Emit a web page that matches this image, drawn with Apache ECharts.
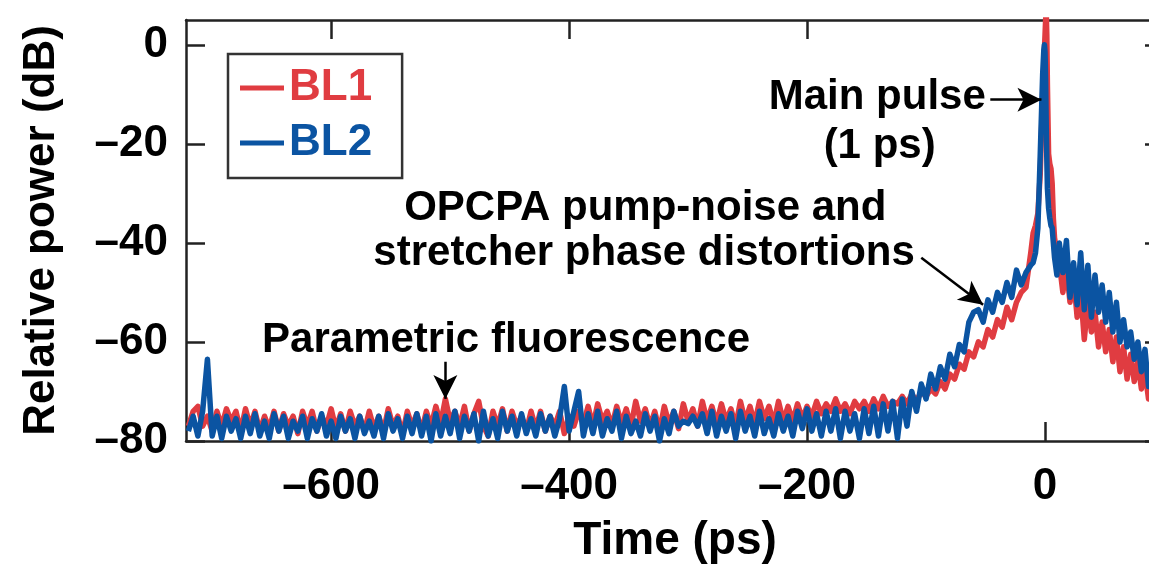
<!DOCTYPE html>
<html><head><meta charset="utf-8">
<script src="https://cdn.jsdelivr.net/npm/echarts@6/dist/echarts.min.js"></script>
<style>html,body{margin:0;padding:0;background:#fff;overflow:hidden}#c{width:1149px;height:565px}</style>
</head><body><div id="c"></div>
<script>
// ---- data ----
// noise floor + leading pedestal, sampled every 4 ps from -720 ps
const floorStart = -720, floorStep = 4;
const bl1Floor = [
-77,-74,-73,-77,-75,-78,-74,-77,-73.5,-76,
-74,-78,-73.5,-77,-74,-78,-75,-77.5,-74,-78,
-74.5,-77,-75,-78.5,-74,-77,-74,-78,-75,-77,
-73.5,-77.5,-74.5,-78,-74,-77,-75,-78,-74,-77.5,
-75,-78,-73.5,-77,-75,-78.5,-74,-77,-74.5,-78,
-74,-77,-73,-76.5,-71.5,-76,-74,-77,-73,-78,
-74.5,-72,-77,-79,-74,-77,-73.5,-78,-74,-77,
-75,-78,-74,-77.5,-74,-78,-75,-77,-74,-78.5,
-75,-77,-74,-76.5,-73,-77,-72.5,-76,-74,-77,
-73,-76.5,-73.5,-77,-72,-76,-73.5,-77,-74,-78,
-73,-76.5,-74,-77.5,-72.5,-76,-73.5,-77,-72,-76,
-73,-76.5,-72.5,-76,-73.5,-77,-72,-76,-73,-76.5,
-72,-75.5,-73,-76.5,-72,-76,-73,-76,-72.5,-75.5,
-73,-75,-72,-74.5,-72.5,-74,-71.5,-74,-72.5,-74.5,
-72,-73.5,-72,-74,-71.5,-73.5,-71,-73,-72,-72.5,
-71,-72.5,-70.5,-72,-70,-71,-69.5,-70.5,-68,-69.5,
-66.5,-67.5,-64.5,-65.5,-62,-63,-60,-61,-57.5,-59,
-55.5,-57,-53,-55.5,-52,-50,-49
];
const bl2Floor = [
-78,-75,-79,-74,-63.5,-79,-75,-79.5,-75,-78,
-75.5,-79.5,-75,-78.5,-74.5,-79,-76,-79.5,-74.5,-78,
-75,-79.5,-76,-78,-75,-79.5,-75.5,-78,-74.5,-79,
-76,-79.5,-75,-78,-75.5,-79.5,-75,-78.5,-76,-79,
-75,-79.5,-74.5,-78,-75.5,-79.5,-75,-78.5,-74.5,-79,
-75,-80,-74.5,-79,-75,-78.5,-74,-79.5,-75,-78,
-74.5,-80,-74,-79,-75.5,-79.5,-74,-78,-75,-79,
-74.5,-78.5,-75.5,-79,-74.5,-78,-75,-79,-75.5,-69,
-78,-74,-70,-79,-74.5,-78.5,-74,-79,-75.5,-78,
-74,-79.5,-75,-78.5,-76,-79,-74.5,-78,-75,-80,
-75.5,-78.5,-74,-77,-76,-76.5,-75,-77,-74.5,-78.5,
-74,-79,-75,-78,-74.5,-79.5,-74,-78,-75,-79,
-74,-78.5,-75.5,-79,-74.5,-78,-75,-79,-74,-77.5,
-73.5,-78,-74.5,-79,-74,-78,-73.5,-79.5,-74,-78,
-74.5,-79.5,-73.5,-78.5,-73,-79,-72.5,-78,-72,-79.5,
-71.5,-77,-70,-74,-68.5,-71.5,-66.5,-69.5,-65,-67.5,
-62.5,-65,-60.5,-62,-56,-54,-53.5,-56,-51.5,-54,
-50,-52,-48,-51,-45.5,-48.5,-46
];
// main pulse region, irregular sample times (ps)
const peakTime = [-12,-10,-8,-6,-4,-3,-2,-1,-0.5,0,0.5,1,1.5,2,3,4,5,6,7,8,10];
const bl1Peak  = [-42,-38,-36.5,-34,-26,-18,-10,-4,-1,2,5,7,2,-8,-22,-24,-25,-28,-35,-39,-42];
const bl2Peak  = [-44.5,-44,-42,-37,-22,-14,-6,-1,0,-1.5,-7,-16,-23,-29,-33,-35,-36.5,-37,-40,-43,-46.5];
// trailing pedestal, every 3 ps from 12 ps
const tailStart = 12, tailStep = 3;
const bl1Tail = [-44,-50,-45,-52,-47,-55,-50,-59.5,-52,-58,-54,-61,-56,-62,-57.5,-64,-59,-66,-61,-67.5,-62.5,-68,-64,-69.5,-66,-71.5,-67,-72.5,-69,-73];
const bl2Tail = [-40,-46,-39.5,-51,-44,-52.5,-42,-53.5,-44.5,-55,-46.5,-54,-48.5,-56,-50,-58,-52,-60,-55.5,-61,-58,-63.5,-60,-66,-61.5,-69,-64,-70,-66,-71];
const xTicks = [-600,-400,-200,0];
const yTicks = [-80,-60,-40,-20,0];
const seriesNames = ['BL1','BL2'];
const colors = ['#E03C41','#0B54A2'];

function build(floor, peak, tail){
  const out = [];
  floor.forEach((v,i)=>out.push([floorStart+i*floorStep, v]));
  peak.forEach((v,i)=>out.push([peakTime[i], v]));
  tail.forEach((v,i)=>out.push([tailStart+i*tailStep, v]));
  return out;
}

const FONT = 'Liberation Sans, Arial, Helvetica, sans-serif';
const dash = v => String(v).replace('-', '\u2013');
const axisCol = '#222';

const chart = echarts.init(document.getElementById('c'), null, {renderer:'canvas'});
const xBase = {
  type:'value', min:-722, max:100,
  axisLine:{show:true, onZero:false, lineStyle:{color:axisCol, width:2.5}},
  axisTick:{show:true, inside:true, length:19, customValues:xTicks, lineStyle:{color:axisCol, width:2.5}},
  splitLine:{show:false}
};
const yBase = {
  type:'value', min:-80, max:5,
  axisLine:{show:true, onZero:false, lineStyle:{color:axisCol, width:2.5}},
  axisTick:{show:true, inside:true, length:19, customValues:yTicks, lineStyle:{color:axisCol, width:2.5}},
  splitLine:{show:false}
};
const lblStyle = {fontSize:44, fontWeight:'bold', color:'#000', fontFamily:FONT};

chart.setOption({
  animation:false,
  backgroundColor:'#fff',
  grid:{left:186, top:20, width:978, height:421, containLabel:false, outerBoundsMode:'none'},
  legend:{
    orient:'vertical', left:228, top:54,
    borderColor:'#333', borderWidth:2.5, padding:[12,30,13,12],
    itemWidth:44, itemHeight:5, itemGap:11, icon:'rect',
    data:seriesNames.map((n,i)=>({name:n, textStyle:{color:colors[i], fontSize:44, fontWeight:'bold', fontFamily:FONT}}))
  },
  xAxis:[
    Object.assign({}, xBase, {position:'bottom',
      axisLabel:Object.assign({customValues:xTicks, margin:24, formatter:dash}, lblStyle),
      name:'Time (ps)', nameLocation:'middle', nameGap:77,
      nameTextStyle:{fontSize:46, fontWeight:'bold', color:'#000', fontFamily:FONT}}),
    Object.assign({}, xBase, {position:'top', axisLabel:{show:false}})
  ],
  yAxis:[
    Object.assign({}, yBase, {position:'left',
      axisLabel:Object.assign({customValues:yTicks, margin:18, formatter:dash}, lblStyle),
      name:'Relative power (dB)', nameLocation:'middle', nameGap:122,
      nameTextStyle:{fontSize:44, fontWeight:'bold', color:'#000', fontFamily:FONT}}),
    Object.assign({}, yBase, {position:'right', axisLabel:{show:false}})
  ],
  series:[
    {name:'BL1', type:'line', data:build(bl1Floor,bl1Peak,bl1Tail), showSymbol:false, symbol:'none',
      lineStyle:{color:colors[0], width:5.5, join:'round'}, itemStyle:{color:colors[0]}, z:2},
    {name:'BL2', type:'line', data:build(bl2Floor,bl2Peak,bl2Tail), showSymbol:false, symbol:'none',
      lineStyle:{color:colors[1], width:5.5, join:'round'}, itemStyle:{color:colors[1]}, z:3,
      markLine:{silent:true, symbol:['none','arrow'], symbolSize:[18,24], label:{show:false},
        lineStyle:{color:'#000', width:2.5, type:'solid'},
        data:[
          [{coord:[-46,-11.1]},{coord:[-3,-11.1]}],
          [{coord:[-104,-43]},{coord:[-52,-52.5]}],
          [{coord:[-504,-64]},{coord:[-504,-71.5]}]
        ]}}
  ]
});

// annotation texts anchored in data coordinates
const notes = [
  {t:'Main pulse', x:-141, y:-10.7},
  {t:'(1 ps)', x:-139, y:-20.6},
  {t:'OPCPA pump-noise and', x:-336, y:-33},
  {t:'stretcher phase distortions', x:-337, y:-42.2},
  {t:'Parametric fluorescence', x:-453, y:-59.6}
];
chart.setOption({graphic: notes.map(n=>{
  const p = chart.convertToPixel({gridIndex:0}, [n.x, n.y]);
  return {type:'text', x:p[0], y:p[1], z:10,
    style:{text:n.t, fill:'#000', font:'bold 42px '+FONT, textAlign:'center', textVerticalAlign:'middle'}};
})});
</script></body></html>
